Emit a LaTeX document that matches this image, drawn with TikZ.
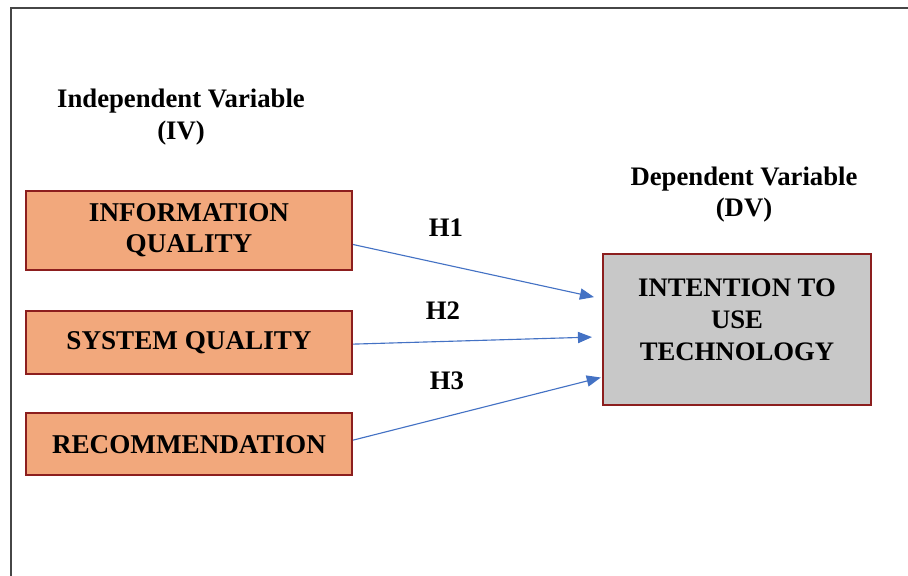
\documentclass[tikz,border=0pt]{standalone}
\usepackage{fontspec}
\setmainfont{Liberation Serif}
\usetikzlibrary{shapes,arrows,arrows.meta}
\definecolor{boxorange}{RGB}{242,168,124}
\definecolor{boxred}{RGB}{140,30,30}
\definecolor{dvgray}{RGB}{200,200,200}
\definecolor{arrowblue}{RGB}{68,114,196}
\definecolor{framegray}{RGB}{70,70,70}
\tikzstyle{ivbox} = [rectangle, draw=boxred, line width=1.4pt, fill=boxorange, minimum width=8.15cm, text centered, align=center, font=\fontsize{19.3}{22}\selectfont\bfseries]
\tikzstyle{dvbox} = [rectangle, draw=boxred, line width=1.4pt, fill=dvgray, minimum width=6.7cm, minimum height=3.775cm]
\tikzstyle{heading} = [align=center, font=\fontsize{19}{22.5}\selectfont\bfseries]
\tikzstyle{line} = [draw=arrowblue, line width=0.8pt, -{Triangle[length=10pt,width=8pt]}]

\begin{document}
\begin{tikzpicture}[x=0.025cm, y=-0.025cm]
	\useasboundingbox (0,0) rectangle (908,576);
	% frame
	\draw [framegray, line width=1.4pt] (908,8) -- (11,8) -- (11,576);
	% Place nodes
	\node [heading] (ivhead) at (181,117) {Independent Variable\\(IV)};
	\node [ivbox, minimum height=1.975cm] (info) at (189,230.5) {INFORMATION\\QUALITY};
	\node [ivbox, minimum height=1.575cm, below of=info, node distance=2.8cm] (system) {SYSTEM QUALITY};
	\node [ivbox, minimum height=1.55cm, below of=system, node distance=2.54cm] (recom) {RECOMMENDATION};
	\node [heading] (dvhead) at (744,194.5) {Dependent Variable\\(DV)};
	\node [dvbox] (intent) at (737,329.5) {};
	\node [heading, font=\fontsize{19}{22.8}\selectfont\bfseries] (intenttext) at ([yshift=0.25cm]intent.center) {INTENTION TO\\USE\\TECHNOLOGY};
	\node [heading] (h1) at (446,228) {H1};
	\node [heading] (h2) at (443,311) {H2};
	\node [heading] (h3) at (447,381) {H3};
	% Draw edges
	\path [line] ([yshift=-0.35cm]info.east) -- ([xshift=-0.2cm,yshift=0.81cm]intent.west);
	\path [line] ([yshift=-0.04cm]system.east) -- ([xshift=-0.25cm,yshift=-0.19cm]intent.west);
	\path [line] ([yshift=0.1cm]recom.east) -- ([xshift=-0.03cm,yshift=-1.2cm]intent.west);
\end{tikzpicture}
\end{document}
